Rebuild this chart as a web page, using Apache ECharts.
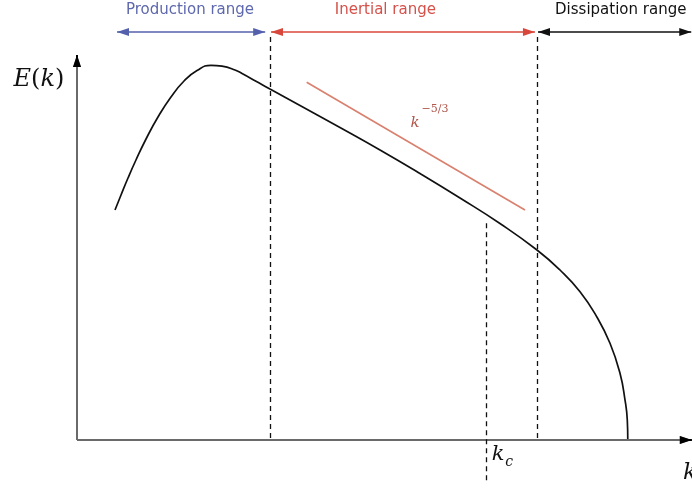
<!DOCTYPE html>
<html>
<head>
<meta charset="utf-8">
<title>Turbulent energy spectrum</title>
<script src="https://cdn.jsdelivr.net/npm/echarts@6/dist/echarts.min.js"></script>
<style>
  html, body { margin: 0; padding: 0; background: #ffffff; }
  #chart { width: 692px; height: 488px; }
</style>
</head>
<body>
<div id="chart"></div>
<script>
// Energy spectrum E(k): wavenumber samples and spectral energy (arbitrary units)
const kValues = [0.62, 0.718, 0.832, 0.962, 1.126, 1.321, 1.533, 1.746, 1.958, 2.186, 2.365, 2.577,
  2.692, 2.920, 3.148, 3.638, 4.29, 4.943, 5.595, 6.248, 6.9, 7.504, 7.879, 8.206, 8.478, 8.695, 8.858,
  8.94, 8.977, 8.985];
const energyValues = [6.005, 6.397, 6.841, 7.311, 7.859, 8.433, 8.956, 9.373, 9.648, 9.783, 9.76, 9.661,
  9.569, 9.368, 9.164, 8.734, 8.159, 7.572, 6.958, 6.319, 5.653, 4.961, 4.439, 3.872, 3.219, 2.525, 1.742,
  1.044, 0.522, 0.0];

// Reference slope k^(-5/3) drawn over the inertial range
const slopeK = [3.747, 7.308];
const slopeE = [9.34, 6.005];

// Range boundaries and the cutoff wavenumber k_c
const boundaryK = [3.148, 7.504];
const cutoffK = 6.672;
const cutoffTopE = 5.69;

// Range bands shown along the top
const rangeNames = ['Production range', 'Inertial range', 'Dissipation range'];
const rangeStartK = [0.653, 3.165, 7.52];
const rangeEndK = [3.07, 7.47, 10.02];

// Axis extents
const kAxisEnd = 10.03;
const eAxisEnd = 10.05;
const bandE = 10.65;
const boundaryTopE = 10.58;

const rangeColors = ['#5560ad', '#d8473b', '#111111'];
const rangeTextColors = ['#5e68ad', '#d5514a', '#111111'];

const arrowHead = { symbol: 'triangle', symbolSize: [8, 12], symbolOffset: [0, 6] };

function arrowLine(x1, y1, x2, y2, color, width, both) {
  const start = both ? Object.assign({}, arrowHead) : { symbol: 'none' };
  return [
    Object.assign({ coord: [x1, y1], lineStyle: { color: color, width: width, type: 'solid' } }, start),
    Object.assign({ coord: [x2, y2] }, arrowHead)
  ];
}

function dashedLine(x, y1, y2) {
  return [
    { coord: [x, y1], symbol: 'none', lineStyle: { color: '#111', width: 1.3, type: [5, 4] } },
    { coord: [x, y2], symbol: 'none' }
  ];
}

const markLines = [];
// axes: grey shafts with black arrow tips
markLines.push(arrowLine(0, 0, kAxisEnd, 0, '#6a6a6a', 2, false));
markLines.push(arrowLine(kAxisEnd - 0.15, 0, kAxisEnd, 0, '#000', 2, false));
markLines.push(arrowLine(0, 0, 0, eAxisEnd, '#6a6a6a', 2, false));
markLines.push(arrowLine(0, eAxisEnd - 0.25, 0, eAxisEnd, '#000', 2, false));
// range boundaries and cutoff
boundaryK.forEach(function (k) { markLines.push(dashedLine(k, 0.05, boundaryTopE)); });
markLines.push(dashedLine(cutoffK, -1.05, cutoffTopE));
// range bands
rangeNames.forEach(function (name, i) {
  markLines.push(arrowLine(rangeStartK[i], bandE, rangeEndK[i], bandE, rangeColors[i], 1.6, true));
});

function textPoint(x, y, text, style) {
  return { value: [x, y], label: Object.assign({ show: true, position: 'inside', formatter: text, textBorderWidth: 0 }, style) };
}

const serif = 'DejaVu Serif';
const labelPoints = [
  textPoint(1.843, 11.22, rangeNames[0], { color: rangeTextColors[0], fontFamily: 'DejaVu Sans', fontSize: 15 }),
  textPoint(5.03, 11.22, rangeNames[1], { color: rangeTextColors[1], fontFamily: 'DejaVu Sans', fontSize: 15 }),
  textPoint(8.87, 11.22, rangeNames[2], { color: rangeTextColors[2], fontFamily: 'DejaVu Sans', fontSize: 15 }),
  textPoint(-0.62, 9.4, '{i|E}{n|(}{i|k}{n|)}', {
    rich: {
      i: { fontFamily: serif, fontStyle: 'italic', fontSize: 24, color: '#111' },
      n: { fontFamily: serif, fontSize: 24, color: '#111' }
    }
  }),
  textPoint(5.514, 8.28, 'k', { color: '#b0564a', fontFamily: serif, fontStyle: 'italic', fontSize: 15 }),
  textPoint(5.84, 8.64, '\u22125/3', { color: '#b0564a', fontFamily: serif, fontSize: 11 }),
  textPoint(6.868, -0.39, 'k', { color: '#111', fontFamily: serif, fontStyle: 'italic', fontSize: 21 }),
  textPoint(7.05, -0.58, 'c', { color: '#111', fontFamily: serif, fontStyle: 'italic', fontSize: 14 }),
  textPoint(10.0, -0.86, 'k', { color: '#111', fontFamily: serif, fontStyle: 'italic', fontSize: 23 })
];

const chart = echarts.init(document.getElementById('chart'), null, { renderer: 'canvas' });
chart.setOption({
  animation: false,
  backgroundColor: '#ffffff',
  grid: { left: 0, right: 0, top: 0, bottom: 0 },
  xAxis: { type: 'value', min: -1.2561, max: 10.0326, show: false },
  yAxis: { type: 'value', min: -1.2533, max: 11.4883, show: false },
  series: [
    {
      name: 'E(k)',
      type: 'line',
      data: kValues.map(function (k, i) { return [k, energyValues[i]]; }),
      smooth: 0.5,
      showSymbol: false,
      lineStyle: { color: '#111', width: 1.7 },
      silent: true
    },
    {
      name: 'k^-5/3',
      type: 'line',
      data: slopeK.map(function (k, i) { return [k, slopeE[i]]; }),
      showSymbol: false,
      lineStyle: { color: '#d9806e', width: 1.6 },
      silent: true
    },
    {
      name: 'guides',
      type: 'line',
      data: [],
      silent: true,
      markLine: {
        silent: true,
        animation: false,
        label: { show: false },
        emphasis: { disabled: true },
        data: markLines
      }
    },
    {
      name: 'labels',
      type: 'scatter',
      symbolSize: 1,
      itemStyle: { color: 'rgba(0,0,0,0)', opacity: 1 },
      silent: true,
      data: labelPoints
    }
  ]
});
</script>
</body>
</html>
